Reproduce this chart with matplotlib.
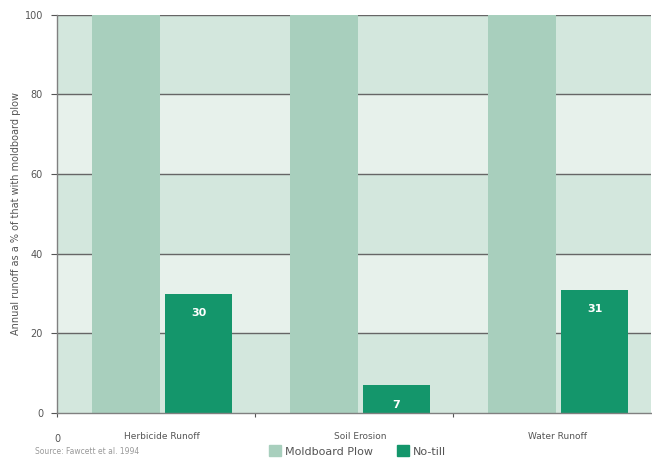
import numpy as np
import matplotlib.pyplot as plt
from matplotlib.patches import Patch

categories = ['Herbicide Runoff', 'Soil Erosion', 'Water Runoff']
moldboard = [100, 100, 100]
notill = [30, 7, 31]
yticks = [0, 20, 40, 60, 80, 100]

c_mold = '#a8cfbd'
c_notill = '#14966b'
c_band_dark = '#d3e7dd'
c_band_light = '#e7f1eb'
c_text = '#555555'

fig = plt.figure(figsize=(6.52, 4.63), dpi=100)
ax = fig.add_axes([0.0874, 0.108, 0.911, 0.860])

# alternating horizontal bands
for i in range(len(yticks) - 1):
    col = c_band_dark if i % 2 == 0 else c_band_light
    ax.axhspan(yticks[i], yticks[i + 1], color=col, zorder=0, lw=0)
for y in yticks[1:]:
    ax.axhline(y, color='#666666', lw=1.0, zorder=1)

x = np.arange(len(categories))
ax.bar(x + 0.348, moldboard, width=0.34, color=c_mold, zorder=2)
bars = ax.bar(x + 0.715, notill, width=0.34, color=c_notill, zorder=2)
for b, v in zip(bars, notill):
    ax.text(b.get_x() + b.get_width() / 2, v - 5, str(v), ha='center', va='center',
            color='white', fontsize=8, fontweight='bold', zorder=3)

ax.set_xlim(0, 3)
ax.set_ylim(0, 100)
ax.set_yticks(yticks)
ax.tick_params(axis='y', labelsize=7, colors=c_text, length=4, width=0.8, direction='out', pad=6)
ax.set_xticks([0, 1, 2])
ax.set_xticklabels(['0', '', ''])
ax.tick_params(axis='x', labelsize=7, colors=c_text, length=3, width=0.8, direction='out', pad=12)
for i, name in enumerate(categories):
    ax.text(i + 0.53, -4.8, name, ha='center', va='top', fontsize=6.5, color=c_text)

for s in ['top', 'right']:
    ax.spines[s].set_visible(False)
for s in ['left', 'bottom']:
    ax.spines[s].set_color('#808080')
    ax.spines[s].set_linewidth(1.0)

ax.set_ylabel('Annual runoff as a % of that with moldboard plow', fontsize=7, color=c_text, labelpad=3)

handles = [Patch(color=c_mold, label='Moldboard Plow'), Patch(color=c_notill, label='No-till')]
fig.legend(handles=handles, loc='center', bbox_to_anchor=(0.548, 0.026), ncol=2, frameon=False,
           fontsize=8, handlelength=1.1, handleheight=1.1, handletextpad=0.3, columnspacing=2.2,
           labelcolor=c_text)
fig.text(0.054, 0.024, 'Source: Fawcett et al. 1994', fontsize=5.5, color='#999999', va='center')

fig.savefig('out.png', dpi=100)
